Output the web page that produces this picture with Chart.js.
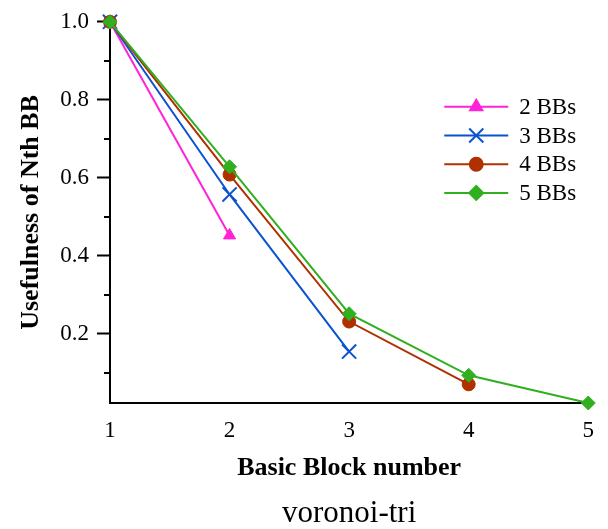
<!DOCTYPE html>
<html>
<head>
<meta charset="utf-8">
<script src="https://cdn.jsdelivr.net/npm/chart.js@4.4.1/dist/chart.umd.min.js"></script>
<style>
  html, body { margin: 0; padding: 0; background: #fff; }
  #wrap { width: 608px; height: 529px; }
</style>
</head>
<body>
<div id="wrap"><canvas id="chart" width="608" height="529"></canvas></div>
<script>
// Usefulness of the Nth basic block, voronoi-tri
var blockNumbers = [1, 2, 3, 4, 5];
var seriesLabels = ["2 BBs", "3 BBs", "4 BBs", "5 BBs"];
var bb2 = [1.0, 0.452];
var bb3 = [1.0, 0.557, 0.154];
var bb4 = [1.0, 0.608, 0.231, 0.070];
var bb5 = [1.0, 0.628, 0.251, 0.093, 0.022];
var yMajorTicks = [0.2, 0.4, 0.6, 0.8, 1.0];
var yMinorTicks = [0.1, 0.3, 0.5, 0.7, 0.9];

var SERIF = "'Liberation Serif', 'Times New Roman', serif";
var colors = ["#ff22d8", "#0a52d0", "#b03000", "#30b020"];
var markers = ["triangle", "crossRot", "circle", "rectRot"];
var markerSize = [7, 10, 6.5, 7];

function pts(values) {
  return values.map(function (v, i) { return { x: blockNumbers[i], y: v }; });
}

var seriesData = [bb2, bb3, bb4, bb5];
var datasets = seriesData.map(function (vals, i) {
  return {
    label: seriesLabels[i],
    data: pts(vals),
    borderColor: colors[i],
    backgroundColor: colors[i],
    borderWidth: 2,
    pointStyle: markers[i],
    pointRadius: markerSize[i],
    pointBorderWidth: markers[i] === "crossRot" ? 2 : 1,
    pointBorderColor: colors[i],
    pointBackgroundColor: colors[i],
    tension: 0,
    clip: false,
    // later series sit on top, as in the original
    order: seriesData.length - 1 - i,
  };
});

// Minor ticks on the y axis and the line+marker legend.
var extras = {
  id: "extras",
  afterDraw: function (chart) {
    var ctx = chart.ctx;
    var y = chart.scales.y;
    var area = chart.chartArea;
    ctx.save();
    ctx.strokeStyle = "#000";
    ctx.lineWidth = 2;
    yMinorTicks.forEach(function (v) {
      var py = Math.round(y.getPixelForValue(v));
      ctx.beginPath();
      ctx.moveTo(area.left - 6, py);
      ctx.lineTo(area.left, py);
      ctx.stroke();
    });

    var lx = area.right - 144;
    var ly = area.top + 85;
    var gap = 28.7;
    chart.data.datasets.forEach(function (ds, i) {
      var yy = ly + i * gap;
      ctx.strokeStyle = ds.borderColor;
      ctx.lineWidth = 2;
      ctx.beginPath();
      ctx.moveTo(lx, yy);
      ctx.lineTo(lx + 64, yy);
      ctx.stroke();
      ctx.fillStyle = ds.backgroundColor;
      Chart.helpers.drawPoint(ctx, {
        pointStyle: ds.pointStyle,
        radius: ds.pointRadius,
        borderWidth: ds.pointBorderWidth,
        rotation: 0,
      }, lx + 32, yy);
      if (ds.pointStyle !== "crossRot") ctx.fill();
      ctx.fillStyle = "#000";
      ctx.font = "23px " + SERIF;
      ctx.textBaseline = "middle";
      ctx.textAlign = "left";
      ctx.fillText(ds.label, lx + 75, yy + 1);
    });
    ctx.restore();
  },
};

new Chart(document.getElementById("chart"), {
  type: "line",
  data: { datasets: datasets },
  plugins: [extras],
  options: {
    responsive: false,
    animation: false,
    layout: { padding: { left: 0, right: 18, top: 19, bottom: 0 } },
    plugins: {
      legend: { display: false },
      tooltip: { enabled: false },
      title: {
        display: true,
        position: "bottom",
        fullSize: false,
        text: "voronoi-tri",
        color: "#000",
        font: { family: SERIF, size: 31, weight: "normal", lineHeight: 1.0 },
        padding: { top: 0, bottom: 0 },
      },
    },
    scales: {
      x: {
        type: "linear",
        min: 1,
        max: 5,
        afterFit: function (s) { s.height = 95; },
        afterBuildTicks: function (s) {
          s.ticks = blockNumbers.map(function (v) { return { value: v }; });
        },
        grid: { display: false, drawTicks: false },
        border: { display: true, color: "#000", width: 2 },
        ticks: {
          color: "#000",
          font: { family: SERIF, size: 23 },
          padding: 14,
          callback: function (v) { return String(v); },
        },
        title: {
          display: true,
          text: "Basic Block number",
          color: "#000",
          font: { family: SERIF, size: 26, weight: "bold", lineHeight: 1.2 },
          padding: { top: 0, bottom: 14 },
        },
      },
      y: {
        min: 0.022,
        max: 1.0,
        afterFit: function (s) { s.width = 110; },
        afterBuildTicks: function (s) {
          s.ticks = yMajorTicks.map(function (v) { return { value: v }; });
        },
        grid: {
          display: true,
          drawOnChartArea: false,
          drawTicks: true,
          tickLength: 13,
          tickWidth: 2,
          tickColor: "#000",
        },
        border: { display: true, color: "#000", width: 2 },
        ticks: {
          color: "#000",
          font: { family: SERIF, size: 23 },
          padding: 8,
          callback: function (v) { return Number(v).toFixed(1); },
        },
        title: {
          display: true,
          text: "Usefulness of Nth BB",
          color: "#000",
          font: { family: SERIF, size: 26, weight: "bold", lineHeight: 1.2 },
          padding: { top: 16, bottom: 0 },
        },
      },
    },
  },
});
</script>
</body>
</html>
